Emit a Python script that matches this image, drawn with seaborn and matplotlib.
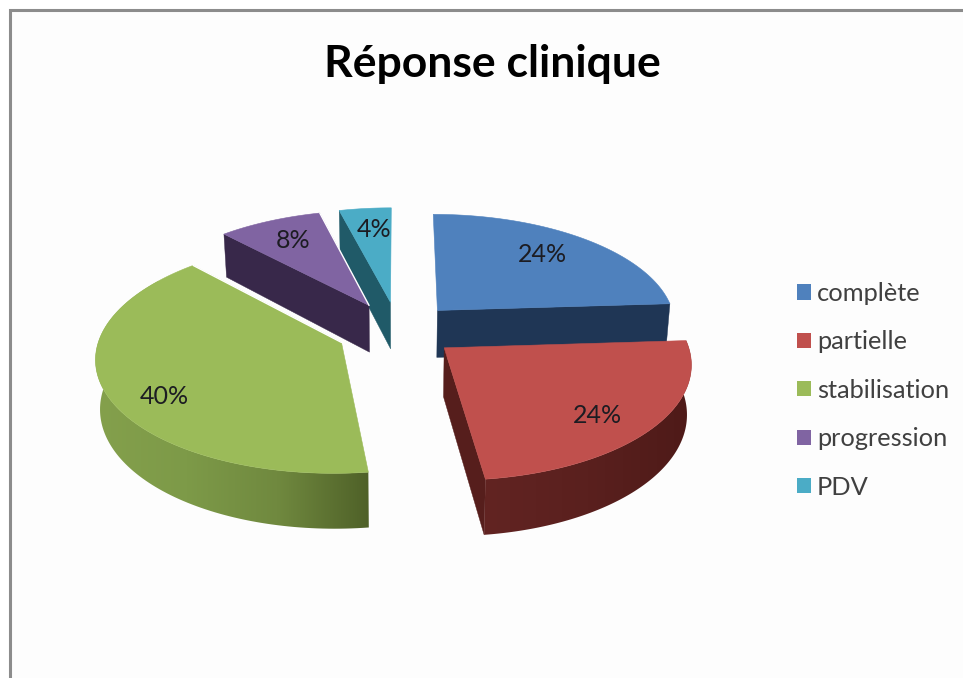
import numpy as np
import matplotlib
matplotlib.use("Agg")
import matplotlib.pyplot as plt
from matplotlib.colors import LinearSegmentedColormap
from matplotlib.patches import Patch, Polygon
import seaborn as sns

# Chart content
TITLE = "Réponse clinique"
categories = ["complète", "partielle", "stabilisation", "progression", "PDV"]
percentages = [24, 24, 40, 8, 4]

# Slice colours: top surface, cut face, and rim shading from left to right
top_colors = ["#4f81bd", "#c0504d", "#9bbb59", "#8064a2", "#4bacc6"]
face_colors = ["#1f3655", "#561e1c", "#4f6128", "#38284a", "#205a68"]
rim_ramps = {1: ["#622422", "#5a201e", "#4e1a18"],
             2: ["#84a04c", "#7d9a48", "#70893f", "#4f6128"]}

# Layout of the tilted disc on a 963x678 canvas
CENTER = (398.0, 330.0)
RADIUS_X, RADIUS_Y = 240.0, 112.0
PERSPECTIVE = 0.12
EXPLODE = [0.245, 0.245, 0.257, 0.257, 0.257]
DEPTH = 48.0
BOTTOM_INSET = 0.985
DRAW_ORDER = [4, 3, 0, 2, 1]
LABEL_RADIUS = [0.74, 0.79, 0.81, 0.75, 0.75]
LABEL_TURN = [-2.0, 4.0, -8.0, 0.0, 1.0]
VISIBLE_RIM_END = {1: 172.8, 2: 305.0}

sns.set_theme(style="white")
plt.rcParams["font.family"] = ["Lato", "DejaVu Sans"]
top_palette = sns.color_palette(top_colors)
face_palette = sns.color_palette(face_colors)


def project(x, y, lower=False):
    """Map disc coordinates (x right, y away from viewer) onto the canvas."""
    x, y = np.asarray(x, float), np.asarray(y, float)
    w = 1.0 / (1.0 + PERSPECTIVE * y)
    px = RADIUS_X * x * w
    py = CENTER[1] - RADIUS_Y * y * w
    if lower:
        px = px * BOTTOM_INSET
        py = py + DEPTH * w
    return np.column_stack([CENTER[0] + px, py])


def polar(theta_deg, radius=1.0):
    t = np.radians(theta_deg)
    return radius * np.sin(t), radius * np.cos(t)


fig = plt.figure(figsize=(9.63, 6.78), dpi=100, facecolor="white")
ax = fig.add_axes([0, 0, 1, 1])

# Chart area with its frame, open towards the right and bottom
ax.add_patch(Polygon([(10, 10), (963, 10), (963, 678), (10, 678)], closed=True,
                     facecolor="#fdfdfd", edgecolor="none", zorder=0))
ax.plot([9.5, 9.5, 963], [678, 10, 10], color="#8c8c8c", lw=2.2, zorder=1,
        solid_joinstyle="miter")

bounds = np.concatenate([[0], np.cumsum(percentages)]) * 3.6
z = 2
for i in DRAW_ORDER:
    start, end = bounds[i], bounds[i + 1]
    mid = (start + end) / 2
    ox, oy = polar(mid, EXPLODE[i])
    thetas = np.linspace(start, end, 120)
    rx, ry = polar(thetas)
    rim_x, rim_y = ox + rx, oy + ry
    apex_top = project([ox], [oy])
    apex_low = project([ox], [oy], lower=True)
    rim_top = project(rim_x, rim_y)
    rim_low = project(rim_x, rim_y, lower=True)

    # Cut face: the side of the wedge that turns towards the viewer
    if i != 2:
        edge = -1 if i in (0, 1) else 0
        face = np.vstack([apex_top, rim_top[edge], rim_low[edge], apex_low])
        ax.add_patch(Polygon(face, closed=True, facecolor=face_palette[i],
                             edgecolor=face_palette[i], lw=0.3, zorder=z))
        z += 1

    # Outer rim, a horizontal colour ramp clipped to the curved wall
    if i in rim_ramps:
        keep = thetas <= VISIBLE_RIM_END[i]
        wall = np.vstack([rim_top[keep], rim_low[keep][::-1]])
        ramp = LinearSegmentedColormap.from_list("rim", rim_ramps[i])
        x0, x1 = wall[:, 0].min(), wall[:, 0].max()
        y0, y1 = wall[:, 1].min(), wall[:, 1].max()
        image = ax.imshow(np.linspace(0, 1, 256)[None, :], cmap=ramp, aspect="auto",
                          extent=(x0, x1, y1, y0), zorder=z, interpolation="bilinear")
        clip = Polygon(wall, closed=True, transform=ax.transData, facecolor="none",
                       edgecolor="none")
        image.set_clip_path(clip)
        z += 1

    # Top surface
    ax.add_patch(Polygon(np.vstack([apex_top, rim_top]), closed=True,
                         facecolor=top_palette[i], edgecolor=top_palette[i],
                         lw=0.4, zorder=z, joinstyle="round"))
    z += 1

    # A pale seam where these wedges pass in front of a neighbour
    if i in (2, 3):
        seam = np.vstack([rim_top[-1], apex_top])
        ax.plot(seam[:, 0], seam[:, 1], color="white", lw=1.0, zorder=z)
        z += 1

# Percentage labels sit on the top surfaces
for i, value in enumerate(percentages):
    mid = (bounds[i] + bounds[i + 1]) / 2
    ox, oy = polar(mid, EXPLODE[i])
    lx, ly = polar(mid + LABEL_TURN[i], LABEL_RADIUS[i])
    pos = project([ox + lx], [oy + ly])[0]
    ax.text(pos[0], pos[1], f"{value}%", ha="center", va="center", fontsize=18,
            color="#1c1c22", zorder=50)

ax.text(492, 64, TITLE, ha="center", va="center", fontsize=32, fontweight="bold",
        color="black", zorder=50)

handles = [Patch(facecolor=c, edgecolor="none") for c in top_palette]
ax.legend(handles, categories, loc="upper left", bbox_to_anchor=(797, 282),
          bbox_transform=ax.transData, frameon=False, fontsize=18.3, borderpad=0,
          borderaxespad=0, handlelength=0.55, handleheight=0.55, handletextpad=0.24,
          labelspacing=1.0, labelcolor="#404040")

ax.set_xlim(0, 963)
ax.set_ylim(678, 0)
ax.axis("off")
fig.savefig("out.png", dpi=100)
